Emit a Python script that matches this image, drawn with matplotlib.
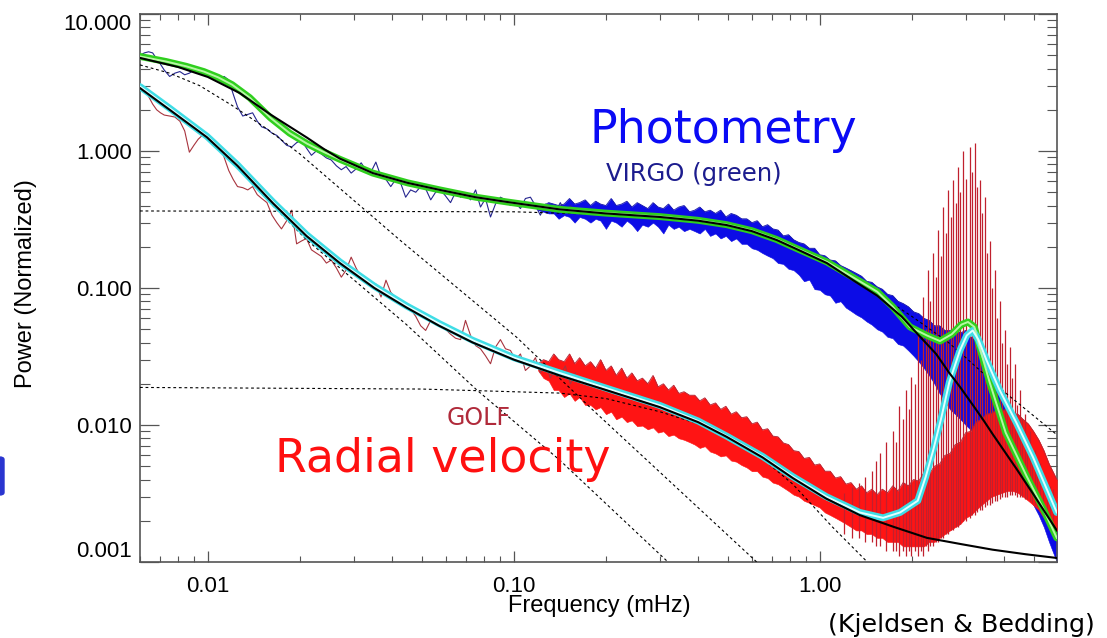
import matplotlib
matplotlib.use('Agg')
import matplotlib.pyplot as plt
from matplotlib.ticker import FixedLocator, NullFormatter
from matplotlib.patches import FancyBboxPatch

# ---- low-frequency part of both spectra (shared frequency bins, mHz) ----
lf_freq = [0.0060, 0.0062, 0.0064, 0.0066, 0.0068, 0.0070, 0.0072, 0.0075, 0.0078, 0.0081,
           0.0084, 0.0087, 0.0090, 0.0093, 0.0097, 0.0101, 0.0105, 0.0109, 0.0113, 0.0117,
           0.0121, 0.0125, 0.0130, 0.0135, 0.0140, 0.0145, 0.0150, 0.0156, 0.0162, 0.0168,
           0.0174, 0.0181, 0.0188, 0.0195, 0.0202, 0.0210, 0.0218, 0.0226, 0.0235, 0.0244,
           0.0253, 0.0263, 0.0273, 0.0283, 0.0294, 0.0305, 0.0317, 0.0329, 0.0341, 0.0354,
           0.0368, 0.0382, 0.0396, 0.0411, 0.0427, 0.0443, 0.0460, 0.0478, 0.0496, 0.0515,
           0.0535, 0.0555, 0.0576, 0.0598, 0.0621, 0.0645, 0.0670, 0.0695, 0.0722, 0.0750,
           0.0778, 0.0808, 0.0839, 0.0871, 0.0904, 0.0939, 0.0975, 0.1012, 0.1051, 0.1091,
           0.1133, 0.1176, 0.1221, 0.1268, 0.1316, 0.1367, 0.1419, 0.1473, 0.1530, 0.1590]

virgo_lf = [5.0, 5.2, 5.3, 5.2, 4.7, 4.3, 3.9, 3.5, 3.7, 3.8,
            3.6, 3.7, 3.9, 4.0, 3.8, 3.7, 3.5, 3.4, 3.5, 3.3,
            2.6, 2.1, 1.8, 1.85, 1.9, 1.65, 1.5, 1.45, 1.35, 1.3,
            1.2, 1.1, 1.07, 1.15, 1.2, 1.05, 0.93, 1.0, 0.95, 0.89,
            0.86, 0.78, 0.73, 0.77, 0.69, 0.74, 0.82, 0.72, 0.70, 0.83,
            0.65, 0.62, 0.55, 0.62, 0.58, 0.46, 0.52, 0.50, 0.55, 0.53,
            0.44, 0.50, 0.52, 0.47, 0.42, 0.50, 0.46, 0.49, 0.44, 0.52,
            0.39, 0.45, 0.33, 0.41, 0.46, 0.44, 0.40, 0.42, 0.38, 0.45,
            0.46, 0.40, 0.34, 0.41, 0.39, 0.36, 0.42, 0.35, 0.40, 0.37]

golf_lf = [2.93, 2.85, 2.5, 2.2, 2.0, 1.9, 1.83, 1.8, 1.77, 1.65,
           1.4, 0.98, 1.1, 1.22, 1.33, 1.18, 1.14, 1.1, 0.9, 0.72,
           0.62, 0.55, 0.54, 0.52, 0.55, 0.48, 0.45, 0.42, 0.34, 0.30,
           0.27, 0.31, 0.37, 0.21, 0.22, 0.23, 0.19, 0.18, 0.17, 0.152,
           0.16, 0.14, 0.12, 0.135, 0.168, 0.14, 0.12, 0.115, 0.11, 0.107,
           0.086, 0.114, 0.093, 0.085, 0.08, 0.078, 0.07, 0.062, 0.053, 0.049,
           0.058, 0.054, 0.055, 0.05, 0.046, 0.043, 0.042, 0.058, 0.045, 0.038,
           0.036, 0.032, 0.028, 0.037, 0.042, 0.036, 0.035, 0.030, 0.033, 0.025,
           0.027, 0.031, 0.024, 0.028, 0.022, 0.026, 0.023, 0.027, 0.020, 0.024]

# ---- dense high-frequency part: upper / lower envelope of the noise ----
hf_freq = [0.120, 0.125, 0.130, 0.135, 0.140, 0.146, 0.152, 0.158, 0.164, 0.171,
           0.178, 0.185, 0.192, 0.200, 0.208, 0.216, 0.225, 0.234, 0.243, 0.253,
           0.263, 0.274, 0.285, 0.296, 0.308, 0.320, 0.333, 0.346, 0.360, 0.375,
           0.390, 0.405, 0.421, 0.438, 0.456, 0.474, 0.493, 0.513, 0.533, 0.555,
           0.577, 0.600, 0.624, 0.649, 0.675, 0.702, 0.730, 0.759, 0.790, 0.821,
           0.854, 0.888, 0.924, 0.961, 0.999, 1.039, 1.081, 1.124, 1.169, 1.216,
           1.264, 1.315, 1.368, 1.422, 1.479, 1.539, 1.600, 1.664, 1.731, 1.800,
           1.872, 1.947, 2.025, 2.106, 2.190, 2.278, 2.369, 2.464, 2.562, 2.665,
           2.771, 2.882, 2.998, 3.117, 3.242, 3.372, 3.507, 3.647, 3.793, 3.945,
           4.102, 4.266, 4.437, 4.614, 4.799, 4.991, 5.191, 5.398, 5.614, 5.950]

virgo_hi = [0.40, 0.40, 0.42, 0.41, 0.40, 0.41, 0.45, 0.41, 0.42, 0.44,
            0.40, 0.43, 0.41, 0.40, 0.45, 0.40, 0.41, 0.43, 0.39, 0.42,
            0.40, 0.38, 0.42, 0.39, 0.38, 0.41, 0.37, 0.39, 0.40, 0.36,
            0.37, 0.39, 0.36, 0.37, 0.35, 0.37, 0.33, 0.35, 0.34, 0.32,
            0.32, 0.30, 0.31, 0.28, 0.29, 0.27, 0.265, 0.24, 0.245, 0.225,
            0.215, 0.21, 0.195, 0.195, 0.175, 0.172, 0.16, 0.158, 0.146, 0.14,
            0.134, 0.128, 0.122, 0.112, 0.11, 0.102, 0.098, 0.09, 0.088, 0.08,
            0.077, 0.073, 0.067, 0.065, 0.06, 0.058, 0.053, 0.053, 0.049, 0.049,
            0.05, 0.047, 0.049, 0.044, 0.041, 0.035, 0.029, 0.024, 0.019, 0.017,
            0.0135, 0.0118, 0.0095, 0.0083, 0.0066, 0.0057, 0.0045, 0.0038, 0.003, 0.0024]
virgo_lo = [0.37, 0.36, 0.35, 0.35, 0.32, 0.34, 0.33, 0.30, 0.33, 0.32,
            0.30, 0.32, 0.31, 0.27, 0.31, 0.30, 0.28, 0.31, 0.29, 0.26,
            0.29, 0.28, 0.30, 0.28, 0.25, 0.29, 0.27, 0.28, 0.26, 0.27,
            0.26, 0.25, 0.27, 0.24, 0.25, 0.23, 0.24, 0.22, 0.23, 0.21,
            0.21, 0.195, 0.19, 0.18, 0.172, 0.165, 0.152, 0.15, 0.138, 0.135,
            0.125, 0.112, 0.115, 0.098, 0.097, 0.09, 0.088, 0.078, 0.08, 0.072,
            0.068, 0.064, 0.061, 0.057, 0.054, 0.05, 0.048, 0.044, 0.043, 0.039,
            0.038, 0.035, 0.032, 0.029, 0.026, 0.023, 0.02, 0.017, 0.015, 0.013,
            0.012, 0.011, 0.01, 0.0092, 0.0085, 0.0078, 0.007, 0.0063, 0.0057, 0.0052,
            0.0047, 0.0042, 0.0038, 0.0033, 0.003, 0.0026, 0.0022, 0.0018, 0.0014, 0.001]

golf_hi = [0.028, 0.030, 0.029, 0.033, 0.030, 0.029, 0.033, 0.028, 0.031, 0.027,
           0.029, 0.026, 0.030, 0.025, 0.027, 0.023, 0.026, 0.022, 0.024, 0.021,
           0.022, 0.020, 0.023, 0.019, 0.020, 0.018, 0.0195, 0.017, 0.0175, 0.0165,
           0.0165, 0.015, 0.0158, 0.014, 0.0145, 0.013, 0.0137, 0.012, 0.0125, 0.0113,
           0.0115, 0.0102, 0.0105, 0.0092, 0.0094, 0.0083, 0.0082, 0.0074, 0.0072, 0.0065,
           0.0064, 0.0057, 0.0058, 0.0051, 0.0052, 0.0046, 0.0046, 0.0041, 0.0042, 0.0037,
           0.0038, 0.0034, 0.0036, 0.0032, 0.0034, 0.0031, 0.0034, 0.0032, 0.0036, 0.0033,
           0.0038, 0.0036, 0.0040, 0.0039, 0.0045, 0.0044, 0.0050, 0.0052, 0.0060, 0.0062,
           0.0072, 0.0075, 0.0088, 0.0090, 0.0105, 0.0110, 0.0120, 0.0122, 0.0130, 0.0128,
           0.0130, 0.0122, 0.0120, 0.0110, 0.0102, 0.0090, 0.0078, 0.0065, 0.0052, 0.0040]
golf_lo = [0.025, 0.022, 0.021, 0.018, 0.018, 0.016, 0.017, 0.015, 0.016, 0.014,
           0.014, 0.013, 0.0135, 0.012, 0.0125, 0.011, 0.0115, 0.0105, 0.0108, 0.0098,
           0.0099, 0.0093, 0.0096, 0.0088, 0.0090, 0.0083, 0.0085, 0.0080, 0.0078, 0.0075,
           0.0072, 0.0068, 0.0070, 0.0064, 0.0062, 0.0059, 0.0060, 0.0055, 0.0054, 0.0051,
           0.0049, 0.0046, 0.0046, 0.0042, 0.0041, 0.0038, 0.0037, 0.0035, 0.0033, 0.0031,
           0.0030, 0.0028, 0.0027, 0.0026, 0.0025, 0.0023, 0.0022, 0.0021, 0.0020, 0.0019,
           0.0018, 0.0017, 0.0017, 0.0016, 0.0016, 0.0015, 0.0015, 0.0014, 0.0014, 0.0014,
           0.0013, 0.0013, 0.0013, 0.0013, 0.0013, 0.0014, 0.0014, 0.0015, 0.0016, 0.0017,
           0.0018, 0.0019, 0.0021, 0.0022, 0.0024, 0.0026, 0.0028, 0.0030, 0.0031, 0.0032,
           0.0033, 0.0033, 0.0032, 0.0030, 0.0028, 0.0026, 0.0024, 0.0021, 0.0019, 0.0017]

# ---- p-mode peaks in GOLF ----
pmode_f = [1.20, 1.27, 1.34, 1.41, 1.48, 1.53, 1.57, 1.65, 1.74, 1.78,
           1.82, 1.87, 1.92, 1.96, 1.99, 2.04, 2.10, 2.14, 2.18, 2.22,
           2.26, 2.30, 2.35, 2.40, 2.44, 2.49, 2.53, 2.58, 2.63, 2.68,
           2.73, 2.78, 2.83, 2.88, 2.94, 3.01, 3.09, 3.15, 3.21, 3.27,
           3.33, 3.40, 3.46, 3.53, 3.59, 3.66, 3.73, 3.80, 3.87, 3.95,
           4.02, 4.10, 4.18, 4.26, 4.34, 4.42, 4.50, 4.59, 4.68, 4.77,
           4.86, 4.95, 5.04, 5.14, 5.24, 5.37, 5.51, 5.65, 5.79]
pmode_top = [0.0032, 0.0035, 0.0038, 0.0042, 0.0046, 0.0055, 0.0062, 0.0075, 0.0091, 0.0075,
             0.0137, 0.011, 0.018, 0.013, 0.0224, 0.02, 0.049, 0.03, 0.086, 0.05,
             0.135, 0.08, 0.18, 0.12, 0.267, 0.17, 0.39, 0.25, 0.52, 0.33,
             0.61, 0.42, 0.76, 0.50, 1.0, 0.62, 1.07, 0.70, 1.14, 0.55,
             0.61, 0.35, 0.46, 0.18, 0.22, 0.10, 0.135, 0.06, 0.081, 0.04,
             0.049, 0.028, 0.037, 0.022, 0.028, 0.014, 0.018, 0.011, 0.012, 0.008,
             0.009, 0.0058, 0.0066, 0.0048, 0.0053, 0.0042, 0.0038, 0.0036, 0.0034]
pmode_base = [0.0016, 0.0015, 0.0015, 0.0014, 0.0014, 0.0013, 0.0013, 0.0012, 0.0012, 0.0012,
              0.0011, 0.0012, 0.0011, 0.0012, 0.0011, 0.0012, 0.0011, 0.0012, 0.0011, 0.0013,
              0.0012, 0.0013, 0.0013, 0.0014, 0.0014, 0.0015, 0.0015, 0.0016, 0.0016, 0.0017,
              0.0017, 0.0018, 0.0018, 0.0019, 0.002, 0.002, 0.0021, 0.0022, 0.0022, 0.0023,
              0.0024, 0.0024, 0.0025, 0.0026, 0.0026, 0.0027, 0.0028, 0.0028, 0.0029, 0.003,
              0.003, 0.003, 0.0031, 0.0031, 0.0031, 0.003, 0.003, 0.003, 0.0029, 0.0029,
              0.0028, 0.0027, 0.0026, 0.0025, 0.0024, 0.0023, 0.0022, 0.0021, 0.002]

# ---- fitted models ----
virgo_fit_f = [0.006, 0.0073, 0.0085, 0.0097, 0.0108, 0.012, 0.0137, 0.016, 0.0185, 0.0211,
               0.024, 0.027, 0.0346, 0.045, 0.0573, 0.075, 0.0948, 0.141, 0.2, 0.3,
               0.4, 0.496, 0.6, 0.723, 0.85, 1.055, 1.25, 1.54, 1.73, 1.97,
               2.24, 2.47, 2.7, 2.9, 3.05, 3.2, 3.33, 3.59, 4.05, 4.75,
               5.35, 5.95]
virgo_fit_p = [4.9, 4.5, 4.15, 3.8, 3.45, 3.05, 2.45, 1.75, 1.35, 1.13,
               0.98, 0.87, 0.69, 0.585, 0.52, 0.46, 0.425, 0.375, 0.352, 0.332,
               0.312, 0.29, 0.262, 0.226, 0.192, 0.155, 0.124, 0.094, 0.073, 0.052,
               0.045, 0.041, 0.046, 0.054, 0.0565, 0.052, 0.037, 0.0205, 0.0088, 0.0042,
               0.0025, 0.0015]

virgo_model_f = [0.006, 0.008, 0.01, 0.0127, 0.016, 0.0211, 0.024, 0.027, 0.0346, 0.045,
                 0.0573, 0.075, 0.0948, 0.141, 0.2, 0.3, 0.4, 0.496, 0.6, 0.723,
                 0.85, 1.055, 1.3, 1.54, 1.85, 2.09, 2.4, 2.65, 2.87, 3.2,
                 3.43, 3.67, 4.39, 5.0, 5.95]
virgo_model_p = [4.78, 4.1, 3.47, 2.65, 1.85, 1.25, 1.03, 0.88, 0.69, 0.585,
                 0.52, 0.46, 0.425, 0.375, 0.35, 0.33, 0.31, 0.288, 0.26, 0.224,
                 0.19, 0.152, 0.112, 0.088, 0.062, 0.046, 0.033, 0.024, 0.019, 0.0135,
                 0.0108, 0.0086, 0.0048, 0.0031, 0.0017]

golf_fit_f = [0.006, 0.0075, 0.00993, 0.0125, 0.0163, 0.021, 0.027, 0.035, 0.0446, 0.057,
              0.0734, 0.1, 0.141, 0.2, 0.3, 0.4, 0.496, 0.65, 0.816, 1.05,
              1.35, 1.61, 1.83, 2.09, 2.22, 2.35, 2.5, 2.65, 2.87, 3.02,
              3.16, 3.3, 3.5, 3.87, 4.39, 4.98, 5.95]
golf_fit_p = [2.95, 2.05, 1.28, 0.79, 0.425, 0.245, 0.155, 0.103, 0.074, 0.055,
              0.0415, 0.031, 0.024, 0.0186, 0.0139, 0.0107, 0.0083, 0.0059, 0.0042, 0.003,
              0.0023, 0.0021, 0.0023, 0.0028, 0.0042, 0.0066, 0.0115, 0.0205, 0.035, 0.045,
              0.049, 0.042, 0.030, 0.018, 0.0104, 0.0058, 0.0023]

golf_model_f = [0.006, 0.0075, 0.00993, 0.0125, 0.0163, 0.021, 0.027, 0.035, 0.0446, 0.057,
                0.0734, 0.1, 0.141, 0.2, 0.3, 0.4, 0.496, 0.65, 0.816, 1.05,
                1.35, 1.75, 2.24, 2.9, 3.67, 4.7, 5.95]
golf_model_p = [2.88, 2.0, 1.26, 0.78, 0.417, 0.24, 0.152, 0.10, 0.072, 0.053,
                0.040, 0.030, 0.023, 0.018, 0.0135, 0.0105, 0.0082, 0.0058, 0.0041, 0.0029,
                0.0022, 0.0018, 0.0015, 0.00135, 0.00123, 0.00114, 0.00107]

# ---- model components (dotted) ----
virgo_pl_f = [0.006, 0.0075, 0.0094, 0.012, 0.0156, 0.02, 0.0424, 0.102, 0.181, 0.622]
virgo_pl_p = [4.25, 3.7, 3.0, 2.15, 1.45, 0.95, 0.224, 0.0438, 0.0129, 0.001]
virgo_gr_f = [0.006, 0.1, 0.3, 0.6, 1.0, 1.5, 2.0, 2.6, 3.0, 3.87, 5.95]
virgo_gr_p = [0.365, 0.36, 0.335, 0.26, 0.165, 0.095, 0.062, 0.041, 0.031, 0.0186, 0.0085]
golf_pl_f = [0.006, 0.0075, 0.00993, 0.0125, 0.0163, 0.021, 0.027, 0.0446, 0.0757, 0.141, 0.319]
golf_pl_p = [2.88, 2.0, 1.24, 0.77, 0.40, 0.225, 0.14, 0.054, 0.018, 0.00556, 0.001]
golf_gr_f = [0.006, 0.05, 0.141, 0.2, 0.3, 0.45, 0.6, 0.816, 1.1, 1.43]
golf_gr_p = [0.0188, 0.0183, 0.0171, 0.0156, 0.0125, 0.0094, 0.0066, 0.0037, 0.0018, 0.001]

x_ticks = [0.01, 0.1, 1.0]
x_labels = ['0.01', '0.10', '1.00']
y_ticks = [0.001, 0.01, 0.1, 1.0, 10.0]
y_labels = ['0.001', '0.010', '0.100', '1.000', '10.000']

W, H = 1107, 638
fig = plt.figure(figsize=(W / 100, H / 100), dpi=100)
ax = fig.add_axes([140 / W, 1 - 562 / H, 917 / W, 548 / H])
ax.set_xscale('log')
ax.set_yscale('log')
ax.set_xlim(0.006, 5.96)
ax.set_ylim(0.001, 10)

# spectra
ax.fill_between(hf_freq, virgo_lo, virgo_hi, color='#0c0ce6', lw=0.4, zorder=2)
ax.plot(hf_freq, virgo_hi, color='#1c1ca8', lw=0.6, zorder=2)
ax.plot(lf_freq, virgo_lf, color='#25258f', lw=0.8, zorder=2)

ax.fill_between(hf_freq, golf_lo, golf_hi, color='#ff1414', lw=0.4, zorder=3)
ax.plot(hf_freq, golf_hi, color='#b02838', lw=0.6, zorder=3)
ax.plot(lf_freq, golf_lf, color='#a8343e', lw=0.8, zorder=3)
ax.vlines(pmode_f, pmode_base, pmode_top, color='#c0202e', lw=0.9, zorder=3.5)

# components
dots = (0, (2.5, 2.5))
for f, p in [(virgo_pl_f, virgo_pl_p), (virgo_gr_f, virgo_gr_p),
             (golf_pl_f, golf_pl_p), (golf_gr_f, golf_gr_p)]:
    ax.plot(f, p, color='black', lw=0.8, ls=dots, zorder=4)

# fits
ax.plot(virgo_fit_f, virgo_fit_p, color='#2fcf1e', lw=5, solid_capstyle='round', zorder=5)
ax.plot(virgo_fit_f, virgo_fit_p, color='#b6f7a4', lw=1.4, zorder=5.1)
ax.plot(golf_fit_f, golf_fit_p, color='#3fdde6', lw=5, solid_capstyle='round', zorder=5)
ax.plot(golf_fit_f, golf_fit_p, color='#e4ffff', lw=1.4, zorder=5.1)
ax.plot(virgo_model_f, virgo_model_p, color='black', lw=1.5, zorder=6)
ax.plot(golf_model_f, golf_model_p, color='black', lw=1.5, zorder=6)

# axes styling
frame = '#555555'
for s in ax.spines.values():
    s.set_color(frame)
    s.set_linewidth(1.2)
minor = [k * 10.0 ** e for e in (-3, -2, -1, 0) for k in range(2, 10)]
ax.xaxis.set_major_locator(FixedLocator(x_ticks))
ax.set_xticklabels(x_labels)
ax.yaxis.set_major_locator(FixedLocator(y_ticks))
ax.set_yticklabels(y_labels)
ax.xaxis.set_minor_locator(FixedLocator(minor))
ax.yaxis.set_minor_locator(FixedLocator(minor))
ax.xaxis.set_minor_formatter(NullFormatter())
ax.yaxis.set_minor_formatter(NullFormatter())
ax.tick_params(axis='x', which='major', direction='in', length=8, width=0.9, color=frame,
               top=True, pad=10, labelsize=16)
ax.tick_params(axis='x', which='minor', direction='in', length=4, width=0.8, color=frame, top=True)
ax.tick_params(axis='y', which='major', direction='in', length=13.5, width=0.9, color=frame,
               right=True, pad=6, labelsize=16)
ax.tick_params(axis='y', which='minor', direction='in', length=7, width=0.8, color=frame, right=True)
for lab in ax.get_xticklabels() + ax.get_yticklabels():
    lab.set_family('Liberation Sans')
ylabs = ax.get_yticklabels()
ylabs[-1].set_va('top')
ylabs[0].set_va('bottom')

fig.text(599 / W, 1 - 606 / H, 'Frequency (mHz)', ha='center', va='center',
         fontsize=17, family='Liberation Sans')
fig.text(26 / W, 1 - 284 / H, 'Power (Normalized)', ha='center', va='center', rotation=90,
         fontsize=17, family='Liberation Sans')

# annotations
fig.text(590 / W, 1 - 143 / H, 'Photometry', color='#0a0af5', fontsize=33, ha='left', va='baseline')
fig.text(606 / W, 1 - 181 / H, 'VIRGO (green)', color='#1c1c8e', fontsize=17.5, ha='left', va='baseline')
fig.text(447 / W, 1 - 425 / H, 'GOLF', color='#b02a3a', fontsize=17, ha='left', va='baseline')
fig.text(275 / W, 1 - 472 / H, 'Radial velocity', color='#ff1010', fontsize=33, ha='left', va='baseline')
fig.text(828 / W, 1 - 632 / H, '(Kjeldsen & Bedding)', color='black', fontsize=18.3, ha='left', va='baseline')

fig.patches.append(FancyBboxPatch((-6 / W, 1 - 495 / H), 10 / W, 38 / H,
                                  boxstyle='round,pad=0,rounding_size=0.004',
                                  transform=fig.transFigure, color='#2a35d0', figure=fig))

fig.savefig('out.png', dpi=100)
